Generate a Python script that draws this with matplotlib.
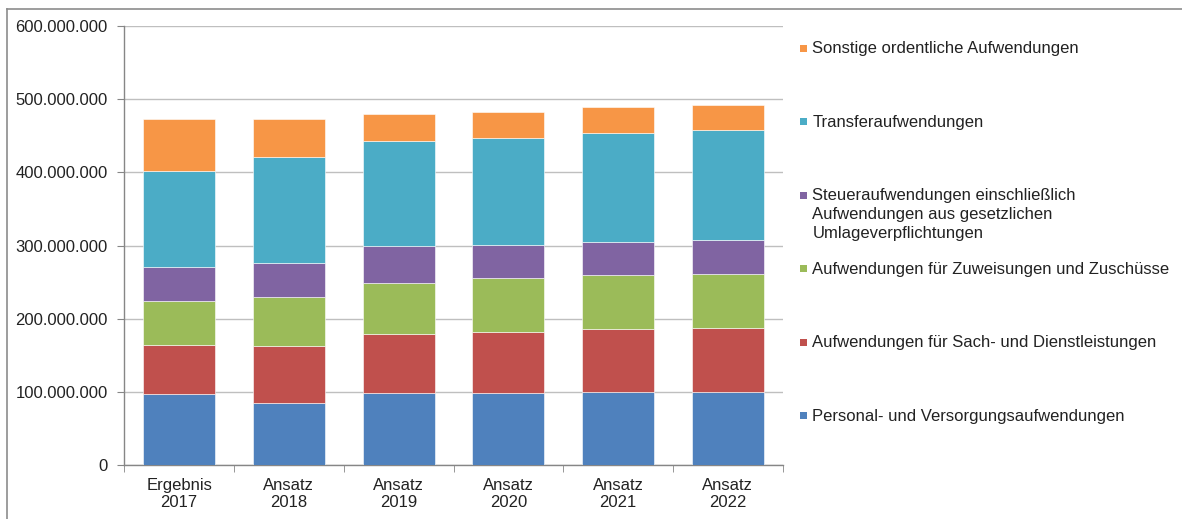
import matplotlib
matplotlib.use("Agg")
import matplotlib.pyplot as plt
from matplotlib.patches import Rectangle
from matplotlib.lines import Line2D
import numpy as np

plt.rcParams['font.family'] = ['Liberation Sans', 'DejaVu Sans']

categories = ["Ergebnis\n2017", "Ansatz\n2018", "Ansatz\n2019",
              "Ansatz\n2020", "Ansatz\n2021", "Ansatz\n2022"]

# values in euros (stack order bottom -> top)
personal = [97.8e6, 85.1e6, 98.9e6, 98.9e6, 100.7e6, 100.7e6]
sach = [66.5e6, 77.9e6, 81.1e6, 83.4e6, 85.7e6, 86.6e6]
zuweisungen = [60.6e6, 67.0e6, 68.8e6, 73.4e6, 73.4e6, 74.3e6]
steuer = [45.6e6, 46.4e6, 51.0e6, 45.1e6, 45.6e6, 46.0e6]
transfer = [131.5e6, 145.2e6, 143.6e6, 146.8e6, 148.6e6, 150.9e6]
sonstige = [71.5e6, 51.9e6, 36.9e6, 35.0e6, 35.5e6, 34.2e6]

series = [personal, sach, zuweisungen, steuer, transfer, sonstige]
labels = ["Personal- und Versorgungsaufwendungen",
          "Aufwendungen für Sach- und Dienstleistungen",
          "Aufwendungen für Zuweisungen und Zuschüsse",
          "Steueraufwendungen einschließlich\nAufwendungen aus gesetzlichen\nUmlageverpflichtungen",
          "Transferaufwendungen",
          "Sonstige ordentliche Aufwendungen"]
colors = ['#4F81BD', '#C0504D', '#9BBB59', '#8064A2', '#4BACC6', '#F79646']

W, H = 1182, 519
fig = plt.figure(figsize=(W / 100, H / 100), dpi=100)
ax = fig.add_axes([124.3 / W, 1 - 465.3 / H, (782.7 - 124.3) / W, (465.3 - 26) / H])

x = np.arange(len(categories))
bottom = np.zeros(len(categories))
for vals, lab, c in zip(series, labels, colors):
    ax.bar(x, vals, bottom=bottom, width=0.656, color=c, label=lab,
           edgecolor='white', linewidth=0.4, zorder=3)
    bottom += np.array(vals)

ax.set_xlim(-0.5, len(categories) - 0.5)
ax.set_ylim(0, 600e6)
ax.set_yticks(np.arange(0, 600e6 + 1, 100e6))
ax.set_yticklabels([f"{int(v):,}".replace(",", ".") for v in ax.get_yticks()])
ax.yaxis.grid(True, color='#BFBFBF', linewidth=1, zorder=0)

ax.set_xticks(x)
ax.set_xticklabels(categories, linespacing=1.15)
ax.set_xticks(np.arange(-0.5, len(categories)), minor=True)
ax.tick_params(axis='x', which='major', length=0, pad=9, labelsize=12, colors='#222222')
ax.tick_params(axis='x', which='minor', length=5, color='#868686', direction='out')
ax.tick_params(axis='y', length=5, color='#868686', pad=7, labelsize=12, labelcolor='#222222')

for s in ['top', 'right']:
    ax.spines[s].set_visible(False)
for s in ['left', 'bottom']:
    ax.spines[s].set_color('#868686')
    ax.spines[s].set_linewidth(1)

# legend drawn by hand, top entry first
for i, (lab, c) in enumerate(zip(labels[::-1], colors[::-1])):
    yc = 48 + i * 73.4
    fig.add_artist(Rectangle((800 / W, 1 - (yc + 4) / H), 7 / W, 7 / H,
                             transform=fig.transFigure, color=c, lw=0))
    fig.text(812.5 / W, 1 - (yc - 6.5) / H, lab, fontsize=12, ha='left', va='top',
             color='#222222', linespacing=1.32)

# outer chart frame
fig.add_artist(Line2D([7 / W, 7 / W], [0, 1 - 9 / H], transform=fig.transFigure,
                      color='#8C8C8C', lw=1.2))
fig.add_artist(Line2D([7 / W, 1], [1 - 9 / H, 1 - 9 / H], transform=fig.transFigure,
                      color='#8C8C8C', lw=1.2))

fig.savefig("out.png", dpi=100)
